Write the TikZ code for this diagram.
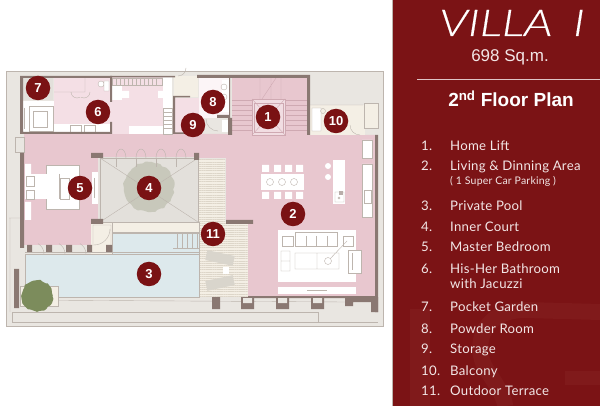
\documentclass[tikz,border=0pt]{standalone}
\usepackage{fontspec}
\usepackage{tikz}
\usepackage{xcolor}
\usetikzlibrary{patterns.meta,decorations.pathmorphing}
\setmainfont{Liberation Sans}
\newfontfamily\titlefont[FakeStretch=1.28,FakeBold=0.4]{Lato Light Italic}
\newfontfamily\listfont[LetterSpace=2]{Lato}
\definecolor{panelred}{HTML}{7B1315}
\definecolor{markred}{HTML}{7A1214}
\definecolor{ghostred}{HTML}{801A1B}
\definecolor{listwhite}{HTML}{F2E6E6}
\definecolor{hallpink}{HTML}{E8C7CF}
\definecolor{bathpink}{HTML}{F4DFE5}
\definecolor{stairpink}{HTML}{CFA9B2}
\definecolor{sitegrey}{HTML}{E9E6E1}
\definecolor{courtgrey}{HTML}{E3E0DB}
\definecolor{poolblue}{HTML}{DDE9EC}
\definecolor{deckcream}{HTML}{F4EFE5}
\definecolor{wallbrown}{HTML}{8A7872}
\definecolor{fineline}{HTML}{BDB5AE}
\definecolor{deckline}{HTML}{DDD6C9}
\definecolor{courttree}{HTML}{C8C8BB}
\definecolor{gardentree}{HTML}{7C8C5C}
\definecolor{loungegrey}{HTML}{D9D5CC}
\tikzset{
  marker/.style={circle, fill=markred, text=white, inner sep=0pt, minimum size=24.5pt, font=\fontsize{13}{13}\bfseries\selectfont},
  wall/.style={fill=wallbrown, draw=none},
  furn/.style={fill=white, draw=none},
  fine/.style={draw=fineline, line width=0.4pt},
  stairline/.style={draw=stairpink, line width=0.4pt},
  itemno/.style={anchor=base west, inner sep=0pt, text=listwhite, font=\listfont\fontsize{13.2}{13.2}\selectfont},
  itemtext/.style={anchor=base west, inner sep=0pt, text=listwhite, font=\listfont\fontsize{13.2}{13.2}\selectfont},
  decks/.style={pattern={Lines[angle=0,distance=2.2pt,line width=0.5pt]}, pattern color=deckline},
  blob/.style={decorate, decoration={random steps, segment length=3pt, amplitude=1pt}}
}
\begin{document}
\begin{tikzpicture}[x=1pt,y=-1pt]
  \useasboundingbox (0,0) rectangle (600,406);
  \fill[white] (0,0) rectangle (600,406);
  % site
  \fill[sitegrey, draw=fineline, line width=0.8pt] (6,71) rectangle (383,326);
  \draw[fine] (12,312) -- (318,312) -- (318,322) (12,312) -- (12,322) -- (378,322);
  \draw[fine] (9,218) -- (20,218) (10,218) -- (10,312) (20,300) -- (345,302);
  % floors
  \fill[hallpink] (24,134) -- (232,134) -- (232,78) -- (308,78) -- (308,135) -- (375,135) -- (375,297) -- (248,297) -- (248,222) -- (226,222) -- (226,158) -- (198,158) -- (198,157) -- (98,157) -- (98,222) -- (91,222) -- (91,245) -- (24,245) -- cycle;
  \fill[bathpink] (54,77) rectangle (172,134);
  \fill[bathpink] (175,98) rectangle (200,134);
  \fill[white!70!bathpink] (199,78) rectangle (230,118);
  \fill[courtgrey] (22,77) rectangle (53,100);
  \fill[deckcream] (174,76) rectangle (198,97);
  \fill[deckcream] (310,105) rectangle (365,135);
  \fill[courtgrey] (99,157) rectangle (198,222);
  \fill[deckcream] (199,160) rectangle (225,222);
  \fill[decks] (199,160) rectangle (225,222);
  \fill[deckcream] (199,222) rectangle (248,297);
  \fill[decks] (199,224) rectangle (248,297);
  \fill[deckcream] (91,222) rectangle (199,254);
  \fill[poolblue] (25,254) rectangle (199,297);
  \fill[poolblue] (112,233) rectangle (199,254);
  % jacuzzi, bath fittings
  \fill[furn] (22,101) rectangle (54,133);
  \draw[fine, fill=white] (29,106) rectangle (53,131);
  \draw[fine] (24,108) -- (24,129) (33,111) rectangle (47,127);
  \fill[furn] (54,124) rectangle (110,133);
  \draw[fine] (70,125) rectangle (81,132) (84,125) rectangle (95,132);
  \draw[fine] (54,92) -- (85,92) (85,78) -- (85,92) (71,92) arc (180:60:6) (90,92) arc (0:120:6);
  \draw[fine, fill=white] (101,84) circle (3) (104,81) rectangle (109,91);
  % dressing room
  \fill[furn] (112,85) rectangle (122,100);
  \fill[furn] (122,91) rectangle (129,98) (158,91) rectangle (165,98);
  \fill[furn] (129,126) rectangle (163,134);
  \fill[furn] (163,77) rectangle (172,134);
  \draw[fine] (112,78) rectangle (162,85) (163,108) rectangle (172,134);
  \draw[fine] (116,78) -- (116,85) (120,78) -- (120,85) (124,78) -- (124,85) (128,78) -- (128,85) (132,78) -- (132,85) (136,78) -- (136,85) (140,78) -- (140,85) (144,78) -- (144,85) (148,78) -- (148,85) (152,78) -- (152,85) (156,78) -- (156,85);
  \draw[fine] (163,112) -- (172,112) (163,116) -- (172,116) (163,120) -- (172,120) (163,124) -- (172,124) (163,128) -- (172,128);
  % powder room and storage
  \fill[furn] (222,80) rectangle (229,112);
  \draw[fine] (224,87) circle (3) (224,97) circle (3) (178,76) arc (90:0:8);
  \fill[furn] (222,120) rectangle (228,132);
  \draw[fine] (186,134) arc (180:270:14) (206,119) arc (180:90:12);
  % lift and stairs
  \draw[stairline] (232,100) -- (252,100) (232,105) -- (252,105) (232,110) -- (252,110) (232,115) -- (252,115) (232,120) -- (252,120) (232,125) -- (252,125) (232,130) -- (252,130);
  \draw[stairline] (285,100) -- (307,100) (285,105) -- (307,105) (285,110) -- (307,110) (285,115) -- (307,115) (285,120) -- (307,120) (285,125) -- (307,125) (285,130) -- (307,130);
  \draw[stairline] (260,78) -- (260,99) (271,78) -- (271,99) (281,78) -- (281,99) (262,99) -- (276,78);
  \fill[hallpink!60!white, draw=stairpink, line width=0.5pt] (252,99) rectangle (285,135);
  \draw[stairline] (252,99) -- (285,135) (252,135) -- (285,99);
  \draw[stairline] (254,103) rectangle (283,132);
  % balcony
  \fill[furn] (312,108) rectangle (321,131);
  \draw[fine] (312,108) rectangle (321,131) (310,105) -- (363,105) (323,111) circle (2.5);
  \draw[fine] (350,125) arc (180:90:10);
  \fill[deckcream, draw=fineline, line width=0.4pt] (364,103) rectangle (378,128);
  % kitchen and dining
  \fill[furn] (333,160) rectangle (345,204);
  \draw[fine] (335,192) rectangle (344,202) (339,198) circle (1);
  \fill[wallbrown!60!white] (339,191) rectangle (343,195);
  \fill[furn] (328,166) circle (3) (328,177) circle (3);
  \fill[furn] (362,140) rectangle (372,158) (362,164) rectangle (372,217);
  \draw[fine] (362,140) rectangle (372,158) (362,164) rectangle (372,217) (364,190) rectangle (371,203);
  \fill[furn] (261,174) rectangle (304,190);
  \draw[fine] (270,182) circle (3.5) (282,182) circle (3.5) (294,182) circle (3.5);
  \fill[furn] (262,165) rectangle (269,172) (274,165) rectangle (281,172) (285,165) rectangle (292,172) (296,165) rectangle (303,172);
  \fill[furn] (262,192) rectangle (269,199) (274,192) rectangle (281,199) (285,192) rectangle (292,199) (296,192) rectangle (303,199);
  % living room
  \fill[furn] (278,230) rectangle (356,282);
  \fill[furn] (278,287) rectangle (356,294);
  \draw[fine] (307,290) -- (327,290);
  \draw[fine] (282,236) rectangle (293,246) (295,232) rectangle (337,246) (343,236) rectangle (353,246) (306,236) -- (306,246) (316,236) -- (316,246) (327,236) -- (327,246);
  \draw[fine] (281,251) rectangle (290,261) (281,261) rectangle (290,271) (295,253) rectangle (339,269) (317,253) -- (317,269) (328,261) -- (347,241);
  \draw[fine, fill=white] (328,261) circle (3.5);
  \draw[fine, fill=white] (348,250) rectangle (361,273);
  \draw[fine] (352,253) -- (352,270);
  % bedroom
  \fill[furn] (25,164) rectangle (31,176) (25,202) rectangle (31,220);
  \fill[furn] (46,165) rectangle (79,209);
  \draw[fine] (46,165) rectangle (79,209);
  \fill[furn] (25,174) rectangle (59,199);
  \draw[fine] (26,176) rectangle (34,186) (26,190) rectangle (34,199) (59,174) -- (59,199) (60,178) rectangle (69,199);
  \fill[furn] (92,172) rectangle (98,204);
  \draw[fine] (94,178) -- (94,198);
  \draw[fine] (15,137) rectangle (24,152);
  % inner court
  \fill[courttree, blob] (149,187) circle (25);
  \draw[fine] (100,158) -- (198,222) (100,222) -- (198,158);
  \draw[fine] (100,158) rectangle (198,222);
  \draw[fine] (116,158) -- (116,167) (136,158) -- (136,167) (156,158) -- (156,167) (176,158) -- (176,167);
  \draw[fine] (116,158) arc (180:360:5 and 9) (136,158) arc (180:360:5 and 9) (156,158) arc (180:360:5 and 9) (176,158) arc (180:360:5 and 9);
  % pool edges and steps
  \draw[fine] (112,222) rectangle (199,232) (112,233) rectangle (199,254) (25,254) rectangle (199,297);
  \draw[fine] (177,234) -- (177,248) (182,234) -- (182,248) (187,234) -- (187,248) (192,234) -- (192,248) (197,234) -- (197,248) (173,248) -- (199,248);
  \draw[fine] (93,225) -- (93,246) (93,225) -- (111,225) (111,225) -- (111,246) (110,229) arc (0:90:16);
  \draw[fine] (25,252) -- (199,252);
  \draw[fine] (44,254) arc (0:-60:12) (65,254) arc (0:-60:12) (86,254) arc (0:-60:12);
  % terrace loungers
  \fill[loungegrey, rotate around={-12:(220,258)}] (206,253) rectangle (234,263);
  \fill[loungegrey, rotate around={12:(220,283)}] (206,278) rectangle (234,288);
  \fill[furn] (223,267) rectangle (229,274);
  % planter and tree
  \draw[fine, fill=deckcream] (20,286) rectangle (58,306);
  \fill[gardentree, blob] (37,296) circle (15.5);
  % walls
  \fill[wall] (20,76) rectangle (111,78) (20,132) rectangle (111,134) (20,76) rectangle (23,134);
  \fill[wall] (110,76) rectangle (112,102) (110,122) rectangle (112,134);
  \fill[wall] (111,76) rectangle (175,77.5) (173,96) rectangle (175,134) (173,96) rectangle (190,97.5) (173,132.5) rectangle (185,134);
  \fill[wall] (197,75) rectangle (310,78) (229,78) rectangle (230,116) (228,118) rectangle (232,135) (217,115) rectangle (230,118) (307,78) rectangle (310,135);
  \fill[wall] (20,153) rectangle (24,248) (14,269) rectangle (19,308) (91,153) rectangle (103,158) (91,219) rectangle (103,224) (194,153) rectangle (199,160) (197,157) rectangle (199,160);
  \fill[wall] (226,220) rectangle (253,224) (375,135) rectangle (378,312) (248,296) rectangle (378,298);
  \fill[wall] (27,245) rectangle (32,252) (46,245) rectangle (52,252) (66,245) rectangle (72,252) (87,245) rectangle (92,252) (106,245) rectangle (112,252);
  \fill[wall] (212,297) rectangle (220,309) (241,297) rectangle (254,309) (276,297) rectangle (289,309) (311,297) rectangle (324,309);
  \fill[sitegrey] (243,298) rectangle (252,303) (278,298) rectangle (287,303) (313,298) rectangle (322,303);
  \fill[wall] (345,297) rectangle (353,306) (353,297) rectangle (378,302) (371,297) rectangle (378,312);
  % markers
  \node[marker] at (268,117) (M1) {1};
  \node[marker] at (293,214) (M2) {2};
  \node[marker] at (149,274) (M3) {3};
  \node[marker] at (149,188) (M4) {4};
  \node[marker] at (80,188) (M5) {5};
  \node[marker] at (98,112) (M6) {6};
  \node[marker] at (38,88) (M7) {7};
  \node[marker] at (213,102) (M8) {8};
  \node[marker] at (193,125) (M9) {9};
  \node[marker] at (336,121) (M10) {10};
  \node[marker] at (213,234) (M11) {11};
  % panel
  \fill[panelred] (393,0) rectangle (600,406);
  \draw[fineline, line width=0.5pt] (392.5,0) -- (392.5,406);
  \fill[ghostred] (410,309) rectangle (430,406);
  \draw[ghostred, line width=16pt] (600,312) -- (525,310) .. controls (480,310) and (470,350) .. (490,375) .. controls (500,390) and (505,400) .. (505,406);
  \draw[ghostred, line width=14pt] (565,378) -- (600,378);
  \draw[white!75!panelred, line width=0.7pt] (417,79) -- (600,79);
  \node[anchor=base, text=white, font=\titlefont\fontsize{37}{37}\selectfont] at (512,36) (villaname) {VILLA\hspace{0.55em}I};
  \node[anchor=base, text=listwhite, font=\fontsize{17}{17}\selectfont] at (510,62) (villaarea) {698 Sq.m.};
  \node[anchor=base, text=white, font=\fontsize{19}{19}\bfseries\selectfont] at (511,107) (plantitle) {2\textsuperscript{nd} Floor Plan};
  \node[itemno] at (421,151) (no1) {1.};
  \node[itemtext] at (450,151) (item1) {Home Lift};
  \node[itemno] at (421,171) (no2) {2.};
  \node[itemtext] at (450,171) (item2) {Living \& Dinning Area};
  \node[itemtext, font=\listfont\fontsize{10.5}{10.5}\selectfont] at (450,185) (item2b) {( 1 Super Car Parking )};
  \node[itemno] at (421,211) (no3) {3.};
  \node[itemtext] at (450,211) (item3) {Private Pool};
  \node[itemno] at (421,232) (no4) {4.};
  \node[itemtext] at (450,232) (item4) {Inner Court};
  \node[itemno] at (421,252) (no5) {5.};
  \node[itemtext] at (450,252) (item5) {Master Bedroom};
  \node[itemno] at (421,273) (no6) {6.};
  \node[itemtext] at (450,273) (item6) {His-Her Bathroom};
  \node[itemtext] at (450,289) (item6b) {with Jacuzzi};
  \node[itemno] at (421,312) (no7) {7.};
  \node[itemtext] at (450,312) (item7) {Pocket Garden};
  \node[itemno] at (421,333) (no8) {8.};
  \node[itemtext] at (450,333) (item8) {Powder Room};
  \node[itemno] at (421,353) (no9) {9.};
  \node[itemtext] at (450,353) (item9) {Storage};
  \node[itemno] at (421,375) (no10) {10.};
  \node[itemtext] at (450,375) (item10) {Balcony};
  \node[itemno] at (421,395) (no11) {11.};
  \node[itemtext] at (450,395) (item11) {Outdoor Terrace};
\end{tikzpicture}
\end{document}
